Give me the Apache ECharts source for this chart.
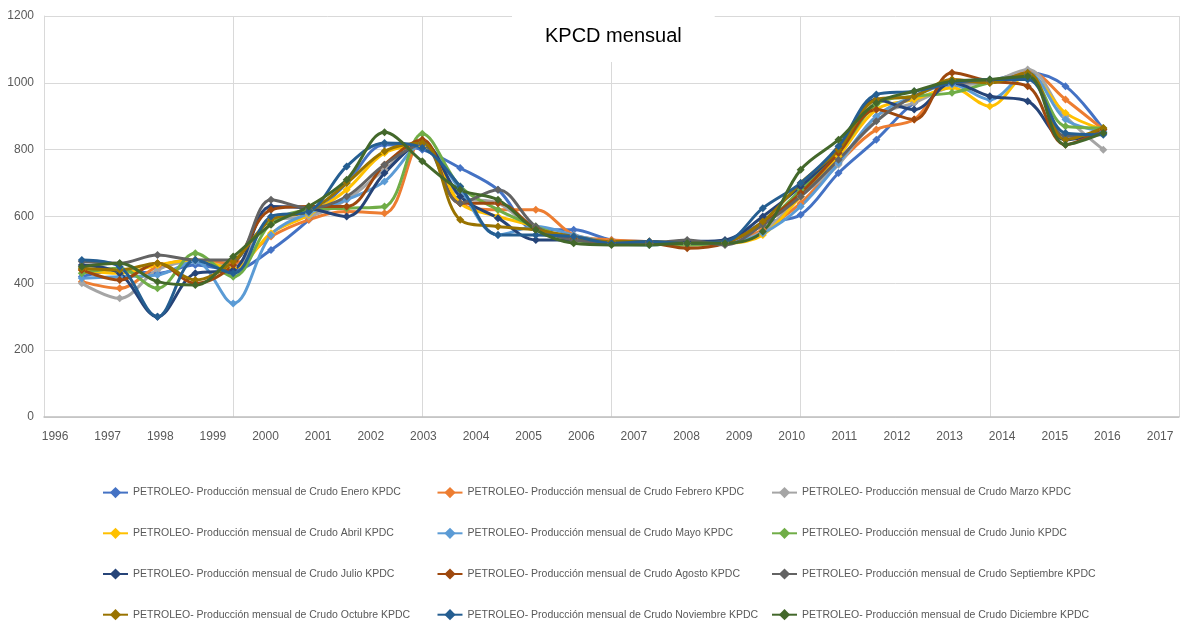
<!DOCTYPE html>
<html>
<head>
<meta charset="utf-8">
<script src="https://cdn.jsdelivr.net/npm/echarts@6/dist/echarts.min.js"></script>
<style>
  html, body { margin: 0; background: #fff; }
  #chart { width: 1184px; height: 626px; }
</style>
</head>
<body>
<div id="chart"></div>
<script>
// posiciones de los puntos sobre el eje (1..28) y etiquetas de años
const puntos = [1, 2, 3, 4, 5, 6, 7, 8, 9, 10, 11, 12, 13, 14, 15, 16, 17, 18, 19, 20, 21, 22, 23, 24, 25, 26, 27, 28];
const anios = [1996, 1997, 1998, 1999, 2000, 2001, 2002, 2003, 2004, 2005, 2006, 2007, 2008, 2009, 2010, 2011, 2012, 2013, 2014, 2015, 2016, 2017];

// KPDC por mes
const enero      = [420, 440, 430, 455, 440, 500, 590, 700, 815, 800, 745, 680, 560, 560, 530, 525, 520, 525, 580, 605, 730, 830, 940, 990, 1005, 1030, 990, 860];
const febrero    = [405, 385, 450, 470, 460, 540, 590, 615, 610, 830, 640, 620, 620, 545, 530, 525, 515, 520, 560, 640, 760, 860, 890, 1010, 1000, 1035, 950, 860];
const marzo      = [400, 355, 440, 465, 450, 590, 600, 650, 740, 820, 660, 640, 560, 535, 520, 520, 515, 520, 555, 660, 755, 900, 940, 990, 1000, 1040, 900, 800];
const abril      = [440, 430, 455, 470, 445, 550, 605, 680, 790, 810, 640, 600, 570, 530, 525, 520, 520, 520, 545, 660, 780, 920, 950, 985, 930, 1025, 910, 860];
const mayo       = [415, 420, 425, 465, 340, 545, 610, 650, 705, 815, 680, 545, 570, 545, 520, 515, 520, 520, 550, 630, 760, 900, 960, 995, 950, 1030, 890, 855];
const junio      = [430, 445, 385, 490, 420, 580, 620, 625, 630, 848, 690, 620, 570, 530, 520, 520, 515, 525, 575, 680, 790, 935, 960, 970, 1000, 1020, 870, 865];
const julio      = [455, 430, 300, 430, 440, 630, 625, 600, 730, 820, 660, 595, 530, 530, 520, 520, 525, 530, 600, 690, 800, 950, 920, 1000, 960, 945, 830, 850];
const agosto     = [440, 410, 460, 400, 455, 620, 630, 630, 755, 830, 640, 640, 565, 535, 520, 520, 505, 520, 580, 670, 790, 920, 890, 1030, 1005, 990, 815, 860];
const septiembre = [465, 460, 485, 470, 470, 650, 625, 660, 755, 815, 640, 680, 570, 530, 525, 520, 530, 515, 575, 660, 770, 885, 960, 1000, 1005, 1025, 840, 850];
const octubre    = [445, 440, 460, 410, 465, 590, 615, 700, 795, 820, 590, 570, 560, 540, 525, 525, 520, 525, 585, 700, 800, 950, 960, 1010, 1000, 1030, 830, 865];
const noviembre  = [470, 450, 300, 470, 430, 600, 615, 750, 820, 805, 690, 545, 545, 540, 520, 525, 520, 525, 625, 700, 810, 965, 975, 1000, 1010, 1010, 850, 845];
const diciembre  = [450, 460, 405, 395, 480, 575, 630, 710, 852, 765, 680, 650, 560, 520, 515, 515, 520, 520, 555, 740, 830, 940, 975, 1005, 1010, 1020, 815, 850];

const meses = ["Enero", "Febrero", "Marzo", "Abril", "Mayo", "Junio", "Julio", "Agosto", "Septiembre", "Octubre", "Noviembre", "Diciembre"];
const valores = [enero, febrero, marzo, abril, mayo, junio, julio, agosto, septiembre, octubre, noviembre, diciembre];
const colores = ["#4472C4", "#ED7D31", "#A5A5A5", "#FFC000", "#5B9BD5", "#70AD47",
                 "#264478", "#9E480E", "#636363", "#997300", "#255E91", "#43682B"];

const nombre = m => "PETROLEO- Producción mensual de Crudo " + m + " KPDC";
const fuente = "'Liberation Sans Narrow', 'Liberation Sans', Arial, sans-serif";

var myChart = echarts.init(document.getElementById("chart"));

const series = valores.map((vals, k) => ({
    name: nombre(meses[k]),
    type: "line",
    xAxisIndex: 0,
    data: vals.map((v, i) => [puntos[i], v]),
    smooth: 0.35,
    symbol: "diamond",
    symbolSize: 8,
    lineStyle: { width: 3, color: colores[k] },
    itemStyle: { color: colores[k] },
}));

// una leyenda por columna (como en Excel, 3 columnas x 4 filas)
const leyendas = [0, 1, 2].map(c => ({
    orient: "vertical",
    left: 102 + c * 334.5,
    top: 487,
    padding: 0,
    itemWidth: 25,
    itemHeight: 14,
    itemGap: 29.5,
    textStyle: { color: "#595959", fontSize: 10.5, fontFamily: fuente },
    data: [0, 1, 2, 3].map(r => nombre(meses[r * 3 + c])),
}));

const option = {
    animation: false,
    backgroundColor: "#fff",
    color: colores,
    title: {
        text: "KPCD mensual",
        left: 512,
        top: 10,
        padding: [16, 33, 16, 33],
        backgroundColor: "#fff",
        textStyle: { color: "#000", fontSize: 20, fontWeight: "normal", fontFamily: "'Liberation Sans', Arial, sans-serif" },
    },
    legend: leyendas,
    grid: { left: 44, right: 5, top: 16, bottom: 209, containLabel: false, outerBoundsMode: "none" },
    xAxis: [
        {
            type: "value",
            min: 0,
            max: 30,
            interval: 5,
            axisLabel: { show: false },
            axisTick: { show: false },
            axisLine: { show: true, lineStyle: { color: "#bfbfbf", width: 1.5 } },
            splitLine: { show: true, lineStyle: { color: "#d9d9d9", width: 1 } },
        },
        {
            // eje sólo para las etiquetas de años
            type: "value",
            position: "bottom",
            min: 1995.79,
            max: 2017.36,
            axisLine: { show: false },
            axisTick: { show: false },
            splitLine: { show: false },
            axisLabel: {
                customValues: anios,
                formatter: v => String(v),
                color: "#595959",
                fontSize: 12,
                fontFamily: fuente,
                margin: 14,
            },
        },
    ],
    yAxis: {
        type: "value",
        min: 0,
        max: 1200,
        interval: 200,
        axisLine: { show: true, lineStyle: { color: "#d9d9d9" } },
        axisTick: { show: false },
        splitLine: { lineStyle: { color: "#d9d9d9", width: 1 } },
        axisLabel: { color: "#595959", fontSize: 12, fontFamily: fuente, margin: 10, formatter: v => String(v) },
    },
    series: series,
};
myChart.setOption(option);
</script>
</body>
</html>
